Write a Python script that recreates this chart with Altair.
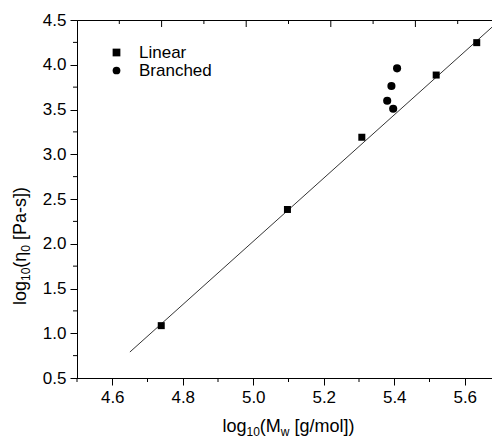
import altair as alt
import pandas as pd

# ---- data ----
lin_x = [4.739, 5.097, 5.308, 5.519, 5.634]
lin_y = [1.085, 2.383, 3.190, 3.885, 4.247]
br_x = [5.408, 5.392, 5.380, 5.397]
br_y = [3.960, 3.762, 3.598, 3.509]
fit_x = [4.65, 5.70]
fit_y = [0.79, 4.50]

x_major = [4.6, 4.8, 5.0, 5.2, 5.4, 5.6]
x_minor = [4.5, 4.7, 4.9, 5.1, 5.3, 5.5, 5.7]
y_major = [0.5, 1.0, 1.5, 2.0, 2.5, 3.0, 3.5, 4.0, 4.5]
y_minor = [0.75, 1.25, 1.75, 2.25, 2.75, 3.25, 3.75, 4.25]
top_long = [4.74, 4.98, 5.22, 5.46]
top_short = [4.62, 4.86, 5.10, 5.34, 5.58]
right_long = [1.3, 2.1, 2.9, 3.7]
right_short = [0.9, 1.7, 2.5, 3.3, 4.1]

series = ["Linear", "Branched"]

FONT = "Liberation Sans"
W, H = 423, 358
TICK_FS = 17
TITLE_FS = 18
SUB_FS = 12

xs = alt.Scale(domain=[4.5, 5.7], nice=False, zero=False)
ys = alt.Scale(domain=[0.5, 4.5], nice=False, zero=False)

axis_common = dict(grid=False, title=None, domainColor="black", tickColor="black",
                   labelColor="black", labelFont=FONT, labelFontSize=TICK_FS,
                   tickSize=7, tickWidth=1, domainWidth=1, format=".1f", labelPadding=4)
x_axis = alt.Axis(values=x_major, **axis_common)
y_axis = alt.Axis(values=y_major, **axis_common)


def X(f):
    return alt.X(f, type="quantitative", scale=xs, axis=x_axis)


def Y(f):
    return alt.Y(f, type="quantitative", scale=ys, axis=y_axis)


shape_enc = alt.Shape(
    "type:N", scale=alt.Scale(domain=series, range=["square", "circle"]),
    legend=alt.Legend(title=None, orient="none", legendX=31, legendY=24,
                      padding=0, labelFont=FONT, labelFontSize=TICK_FS,
                      labelColor="black", symbolFillColor="black",
                      symbolStrokeColor="black", symbolStrokeWidth=0,
                      symbolSize=60, labelOffset=14, rowPadding=0))

lin_df = pd.DataFrame({"x": lin_x, "y": lin_y, "type": series[0]})
br_df = pd.DataFrame({"x": br_x, "y": br_y, "type": series[1]})
fit = pd.DataFrame({"x": fit_x, "y": fit_y})

lin_pts = alt.Chart(lin_df).mark_point(filled=True, opacity=1, color="black", size=49).encode(
    x=X("x"), y=Y("y"), shape=shape_enc)
br_pts = alt.Chart(br_df).mark_point(filled=True, opacity=1, color="black", size=66).encode(
    x=X("x"), y=Y("y"), shape=shape_enc)

line = alt.Chart(fit).mark_line(color="black", strokeWidth=0.8).encode(x=X("x"), y=Y("y"))


def vrules(vals, y0, y1):
    return alt.Chart(pd.DataFrame({"v": vals})).mark_rule(color="black", strokeWidth=1).encode(
        x=X("v"), y=alt.value(y0), y2=alt.value(y1))


def hrules(vals, x0, x1):
    return alt.Chart(pd.DataFrame({"v": vals})).mark_rule(color="black", strokeWidth=1).encode(
        y=Y("v"), x=alt.value(x0), x2=alt.value(x1))


ticks = [
    vrules(x_minor, H, H + 4),
    hrules(y_minor, -4, 0),
    vrules(top_long, 0, 7),
    vrules(top_short, 0, 4),
    hrules(right_long, W, W - 7),
    hrules(right_short, W, W - 4),
]

# Arial / Liberation Sans advance widths (per 1000 em)
ADV = {"l": 222, "o": 556, "g": 556, "1": 556, "0": 556, "(": 333, "M": 833, "w": 722,
       " ": 278, "[": 278, "/": 278, "m": 833, "]": 278, ")": 333, "η": 556, "P": 667,
       "a": 556, "-": 333, "s": 500}


def tw(s, fs):
    return sum(ADV.get(c, 556) for c in s) * fs / 1000.0


x_title = [("log", False), ("10", True), ("(M", False), ("w", True), (" [g/mol])", False)]
y_title = [("log", False), ("10", True), ("(η", False), ("0", True), (" [Pa-s])", False)]


def pieces(spec):
    out = []
    for text, sub in spec:
        fs = SUB_FS if sub else TITLE_FS
        lead = len(text) - len(text.lstrip(" "))
        out.append((text.lstrip(" "), fs, sub, tw(" " * lead, fs), tw(text, fs)))
    return out


layers = []
xp = pieces(x_title)
cx = W / 2 - sum(p[4] for p in xp) / 2
for t, fs, sub, lead, w in xp:
    layers.append(alt.Chart(pd.DataFrame({"t": [t]})).mark_text(
        align="left", baseline="alphabetic", font=FONT, fontSize=fs, color="black").encode(
        text="t:N", x=alt.value(cx + lead), y=alt.value(H + 54 + (4 if sub else 0))))
    cx += w

cy = 285.0
for t, fs, sub, lead, w in pieces(y_title):
    layers.append(alt.Chart(pd.DataFrame({"t": [t]})).mark_text(
        align="left", baseline="alphabetic", font=FONT, fontSize=fs, color="black", angle=270).encode(
        text="t:N", x=alt.value(-51 + (4 if sub else 0)), y=alt.value(cy - lead)))
    cy -= w

chart = alt.layer(line, lin_pts, br_pts, *ticks, *layers).properties(
    width=W, height=H,
    autosize=alt.AutoSizeParams(type="none"),
    padding={"left": 69, "top": 12, "right": -8, "bottom": 63},
).configure(background="white").configure_view(stroke="black", strokeWidth=1)

chart.save("out.html", embed_options={"renderer": "svg", "actions": False})
